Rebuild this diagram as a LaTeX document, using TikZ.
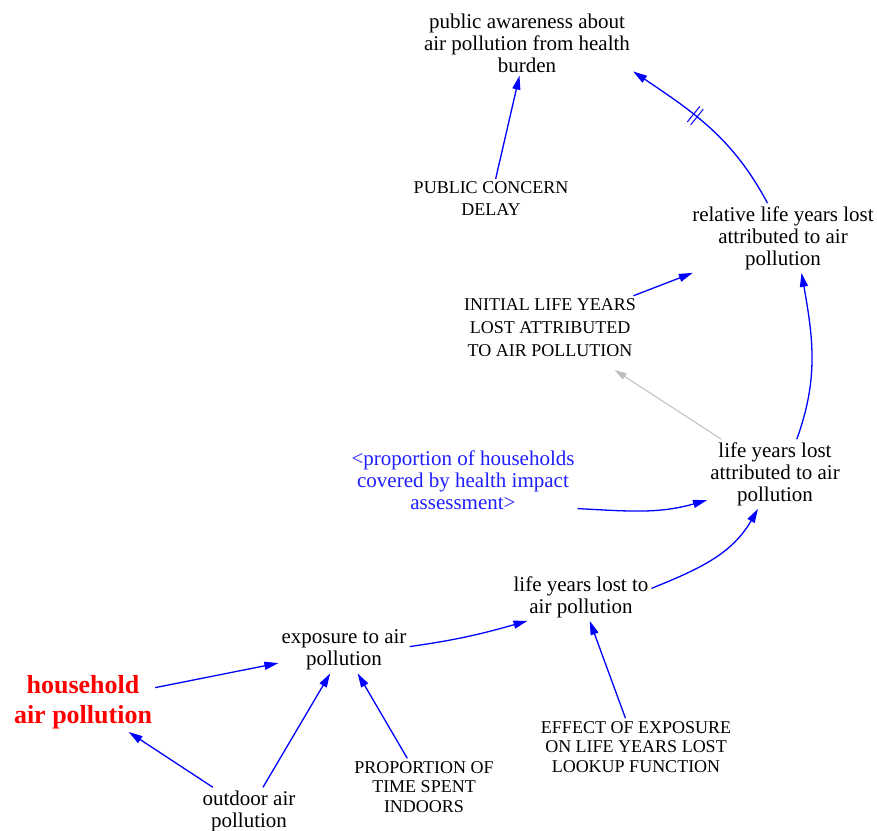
\documentclass[tikz,border=0pt]{standalone}
\usepackage{fontspec}
\setmainfont{Liberation Serif}
\usetikzlibrary{arrows.meta,decorations.markings}
\definecolor{vblue}{RGB}{0,0,255}
\definecolor{vtext}{RGB}{30,30,255}
\definecolor{vred}{RGB}{255,0,0}
\definecolor{vgray}{RGB}{190,190,190}
\begin{document}
\begin{tikzpicture}[x=1pt,y=-1pt,
  lc/.style={align=center,inner sep=3pt,font=\fontsize{21}{22}\selectfont},
  uc/.style={align=center,inner sep=3pt,font=\fontsize{18}{22}\selectfont},
  uclow/.style={align=center,inner sep=3pt,font=\fontsize{18}{19.5}\selectfont},
  shadowvar/.style={lc,text=vtext},
  keyvar/.style={align=center,inner sep=3pt,text=vred,font=\bfseries\fontsize{26}{30}\selectfont},
  link/.style={draw=vblue,line width=1.3pt,-{Triangle[length=14pt,width=8pt]}},
  glink/.style={draw=vgray,line width=1pt,-{Triangle[length=12pt,width=7pt]}},
  delaymark/.style={postaction={decorate},decoration={markings,mark=at position 0.6 with {\draw[vblue,line width=1pt,-] (-2.2pt,-10pt)--(-2.2pt,10pt) (2.2pt,-10pt)--(2.2pt,10pt);}}}
]
\useasboundingbox[fill=white] (0,0) rectangle (877,830);

\node[lc] (aw) at (527,43) {public awareness about\\air pollution from health\\burden};
\node[uc] (pcd) at (491,199) {PUBLIC CONCERN\\DELAY};
\node[lc] (rel) at (783,238) {relative life years lost\\attributed to air\\pollution};
\node[align=center,inner sep=3pt,font=\fontsize{18}{23}\selectfont] (init) at (550,328) {INITIAL LIFE YEARS\\LOST ATTRIBUTED\\TO AIR POLLUTION};
\node[lc] (lyla) at (775,474) {life years lost\\attributed to air\\pollution};
\node[shadowvar] (prop) at (463,480) {<proportion of households\\covered by health impact\\assessment>};
\node[lc] (lylt) at (581,597) {life years lost to\\air pollution};
\node[lc] (exp) at (344,650) {exposure to air\\pollution};
\node[keyvar] (hh) at (83,702) {household\\air pollution};
\node[lc] (out) at (249,811) {outdoor air\\pollution};
\node[uclow] (pti) at (424,787) {PROPORTION OF\\TIME SPENT\\INDOORS};
\node[uclow] (eff) at (636,747) {EFFECT OF EXPOSURE\\ON LIFE YEARS LOST\\LOOKUP FUNCTION};

\draw[link] (pcd) -- (aw);
\draw[link,delaymark] (rel.114) to[out=118,in=-34] (aw.-15);
\draw[link] (init) -- (rel);
\draw[link] (lyla.58) to[out=70,in=-80] (rel.-62);
\draw[glink,shorten >=18pt] (lyla) -- (init);
\draw[link] (prop.-14) to[out=-3,in=196] (lyla.201);
\draw[link] (lylt.7) to[out=22,in=240] (lyla.244);
\draw[link] (exp.3) to[out=8,in=196] (lylt.204);
\draw[link] (hh) -- (exp);
\draw[link] (out) -- (hh);
\draw[link] (out) -- (exp);
\draw[link] (pti) -- (exp);
\draw[link] (eff) -- (lylt);
\end{tikzpicture}
\end{document}
